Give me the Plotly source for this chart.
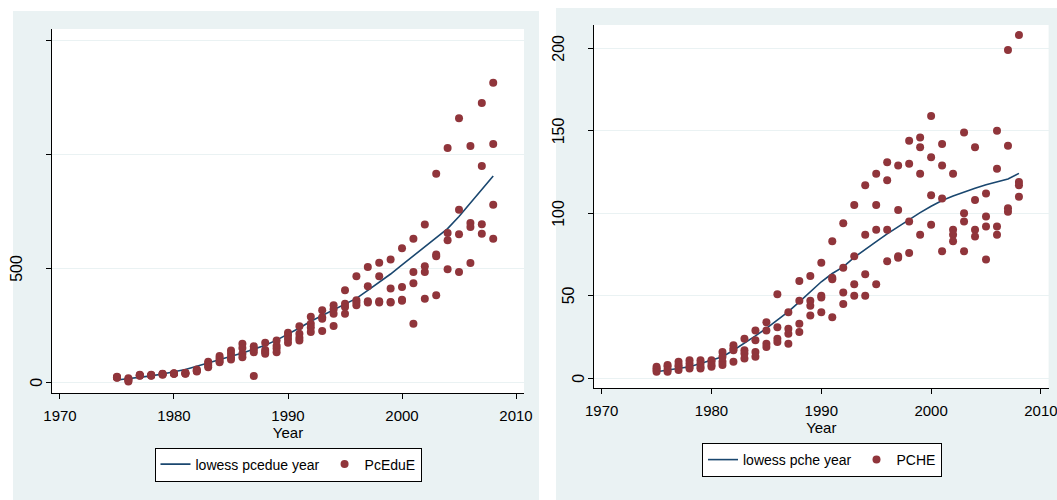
import plotly.graph_objects as go

# ---------------- data ----------------
years = list(range(1975, 2009))

pcedue = [
    [24, 22, 21, 20], [18, 13, 8, 4], [33, 31, 30, 29], [33, 31, 30, 29],
    [38, 36, 35, 33], [40, 39, 38, 37], [42, 40, 39, 38], [56, 52, 49, 47],
    [90, 82, 74, 66], [115, 105, 95, 88], [139, 125, 110, 100], [169, 150, 125, 110],
    [158, 145, 132, 28], [173, 142, 133, 125], [183, 160, 148, 132], [217, 205, 190, 173],
    [246, 213, 195, 183], [287, 257, 240, 221], [316, 285, 279, 225], [338, 320, 301, 247],
    [404, 345, 330, 301], [465, 360, 350, 338], [506, 421, 355, 350], [525, 465, 356, 350],
    [539, 411, 352, 350], [588, 418, 362, 358], [630, 484, 435, 257], [692, 509, 484, 367],
    [915, 561, 553, 382], [1028, 655, 623, 496], [1158, 757, 649, 484], [1037, 699, 681, 523],
    [1225, 949, 693, 652], [1314, 1045, 779, 630],
]
lowess_pcedue = [10, 15, 21, 28, 36, 45, 56, 70, 84, 98, 112, 128, 145, 163, 185, 210,
                 238, 268, 293, 318, 343, 368, 403, 438, 475, 515, 555, 594, 631, 674,
                 727, 785, 845, 905]

# PCHE: four observations per year
pche = [
    [7, 6, 5, 4], [8, 7, 5, 4], [10, 8, 7, 5], [11, 9, 7, 6], [11, 9, 7, 6],
    [11, 10, 8, 7], [16, 13, 10, 8], [20, 18, 17, 10], [24, 17, 15, 12], [29, 23, 16, 13],
    [34, 29, 21, 19], [51, 31, 24, 22], [40, 30, 27, 21], [59, 47, 33, 28], [62, 47, 44, 38],
    [70, 50, 49, 40], [83, 61, 60, 37], [94, 67, 52, 45], [105, 74, 57, 50], [117, 87, 63, 50],
    [124, 105, 90, 57], [131, 120, 90, 71], [129, 102, 74, 73], [144, 130, 95, 76],
    [146, 140, 124, 87], [159, 134, 111, 93], [142, 129, 109, 77], [124, 90, 87, 83],
    [149, 100, 95, 77], [140, 108, 90, 86], [112, 98, 92, 72], [150, 127, 92, 87],
    [199, 141, 103, 101], [208, 119, 117, 110],
]
lowess_pche = [4.0, 5.0, 6.0, 7.0, 9.0, 11.0, 13.1, 17.0, 21.2, 25.7, 30.3, 35.3, 40.4,
               46.3, 52.5, 58.5, 63.5, 67.5, 73.3, 78.3, 82.8, 87.5, 91.9, 96.3, 100.4,
               104.3, 107.7, 110.5, 113.0, 115.2, 117.3, 119.2, 120.8, 124.2]

x_ticks = [1970, 1980, 1990, 2000, 2010]
left_y_ticks = [0, 500, 1000, 1500]
left_y_labels = ["0", "500", "", ""]
right_y_ticks = [0, 50, 100, 150, 200]
right_y_labels = ["0", "50", "100", "150", "200"]

left_names = ("lowess pcedue year", "PcEduE")
right_names = ("lowess pche year", "PCHE")

# ---------------- style ----------------
W, H = 1057, 500
NAVY = "#1a476f"
MAROON = "#90353b"
PANEL = "#eaf2f3"
GRID = "#eaf2f3"
SANS = "Liberation Sans, Arial, sans-serif"
TXT = 15


def fx(px):
    return px / W


def fy(py):
    return 1 - py / H


left_dom_x = [fx(52), fx(524)]
left_dom_y = [fy(393), fy(29)]
right_dom_x = [fx(594), fx(1048.6)]
right_dom_y = [fy(388.3), fy(25)]


def flat(groups):
    xs, ys = [], []
    for yr, vals in zip(years, groups):
        for v in vals:
            xs.append(yr)
            ys.append(v)
    return xs, ys


fig = go.Figure()

lx, ly = flat(pcedue)
rx, ry = flat(pche)

fig.add_trace(go.Scatter(x=years, y=lowess_pcedue, mode="lines", name=left_names[0],
                         line=dict(color=NAVY, width=1.6), xaxis="x", yaxis="y",
                         legend="legend"))
fig.add_trace(go.Scatter(x=lx, y=ly, mode="markers", name=left_names[1],
                         marker=dict(color=MAROON, size=8), xaxis="x", yaxis="y",
                         legend="legend"))
fig.add_trace(go.Scatter(x=years, y=lowess_pche, mode="lines", name=right_names[0],
                         line=dict(color=NAVY, width=1.6), xaxis="x2", yaxis="y2",
                         legend="legend2"))
fig.add_trace(go.Scatter(x=rx, y=ry, mode="markers", name=right_names[1],
                         marker=dict(color=MAROON, size=8), xaxis="x2", yaxis="y2",
                         legend="legend2"))

xaxis_common = dict(
    tickmode="array", tickvals=x_ticks, ticktext=[str(t) for t in x_ticks],
    showgrid=False, zeroline=False, showline=True, linecolor="black", linewidth=1,
    ticks="outside", ticklen=5, tickcolor="black",
    tickfont=dict(family=SANS, size=TXT, color="black"),
    ticklabelstandoff=4, ticklabeloverflow="allow",
    title=dict(text="Year", font=dict(family=SANS, size=TXT, color="black"), standoff=0),
    range=[1969.3, 2010.7],
)
yaxis_common = dict(
    tickmode="array", showgrid=True, gridcolor=GRID, gridwidth=1, zeroline=False,
    showline=True, linecolor="black", linewidth=1, ticks="outside", ticklen=5,
    tickcolor="black", showticklabels=False,
)

legend_common = dict(
    orientation="h", xanchor="center", yanchor="middle",
    bgcolor="white", bordercolor="black", borderwidth=1,
    font=dict(family=SANS, size=14, color="black"),
)

shapes = [
    dict(type="rect", xref="paper", yref="paper", x0=fx(13), x1=fx(539), y0=0, y1=fy(11),
         fillcolor=PANEL, line=dict(width=0), layer="below"),
    dict(type="rect", xref="paper", yref="paper", x0=fx(556), x1=1, y0=0, y1=fy(8),
         fillcolor=PANEL, line=dict(width=0), layer="below"),
    dict(type="rect", xref="paper", yref="paper", x0=left_dom_x[0], x1=left_dom_x[1],
         y0=left_dom_y[0], y1=left_dom_y[1], fillcolor="white", line=dict(width=0), layer="below"),
    dict(type="rect", xref="paper", yref="paper", x0=right_dom_x[0], x1=right_dom_x[1],
         y0=right_dom_y[0], y1=right_dom_y[1], fillcolor="white", line=dict(width=0), layer="below"),
]

annotations = []
for axref, ticks, labels in (("x", left_y_ticks, left_y_labels), ("x2", right_y_ticks, right_y_labels)):
    yref = "y" if axref == "x" else "y2"
    for v, s in zip(ticks, labels):
        if not s:
            continue
        annotations.append(dict(
            x=0, xref=f"{axref} domain", y=v, yref=yref, text=s, showarrow=False,
            textangle=-90, xanchor="center", yanchor="middle",
            xshift=-(15.5 + 10 * (len(s) - 1)),
            font=dict(family=SANS, size=16, color="black"),
        ))

fig.update_layout(
    width=W, height=H, margin=dict(l=0, r=0, t=0, b=0, autoexpand=False),
    paper_bgcolor="white", plot_bgcolor="rgba(0,0,0,0)",
    showlegend=True,
    xaxis=dict(domain=left_dom_x, anchor="y", **xaxis_common),
    yaxis=dict(domain=left_dom_y, anchor="x", range=[-47, 1550],
               tickvals=left_y_ticks, **yaxis_common),
    xaxis2=dict(domain=right_dom_x, anchor="y2", **xaxis_common),
    yaxis2=dict(domain=right_dom_y, anchor="x2", range=[-6.06, 214.1],
                tickvals=right_y_ticks, **yaxis_common),
    legend=dict(x=fx(288), y=fy(464.5), **legend_common),
    legend2=dict(x=fx(822), y=fy(460), **legend_common),
    shapes=shapes,
    annotations=annotations,
)

fig.write_html("out.html", config={"displayModeBar": False},
               post_script="document.body.style.margin='0px';")
